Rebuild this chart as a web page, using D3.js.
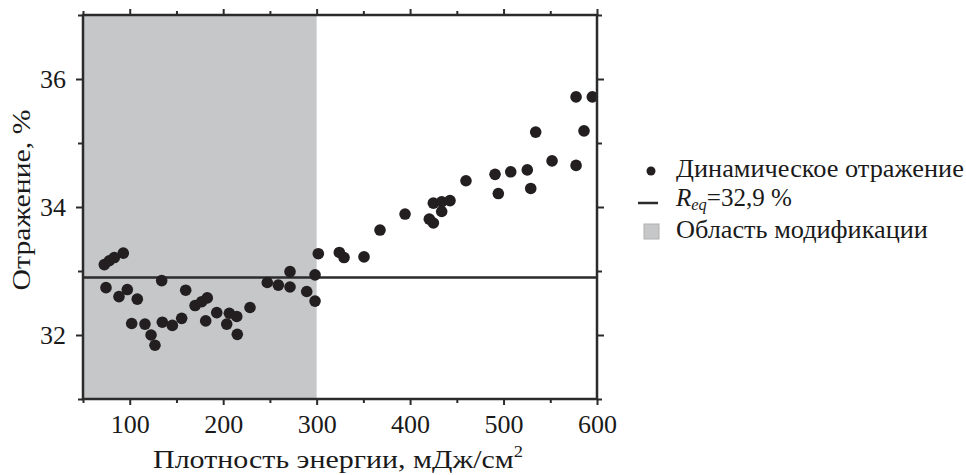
<!DOCTYPE html>
<html>
<head>
<meta charset="utf-8">
<script src="https://cdn.jsdelivr.net/npm/d3@7"></script>
<style>
  body { margin: 0; background: #fff; }
  text { font-family: "Liberation Serif", "Times New Roman", serif; fill: #1a1a1a; }
</style>
</head>
<body>
<div id="chart"></div>
<script>
// energy density, mJ/cm2
var energy = [72.8, 78.1, 83.5, 93.1, 74.6, 88.5, 97.4, 108.1, 102.1, 116.3,
              122.8, 127.0, 134.2, 134.9, 145.6, 155.6, 159.9, 169.9, 177.0, 183.0,
              181.3, 193.1, 206.6, 214.5, 203.8, 215.1, 228.7, 247.2, 259.0, 271.5,
              271.5, 289.4, 298.3, 298.3, 301.8, 324.3, 329.3, 350.7, 367.8, 394.6,
              420.6, 424.9, 424.9, 433.8, 442.7, 433.8, 459.8, 490.9, 494.4, 507.7,
              525.4, 529.1, 534.4, 551.9, 577.6, 577.6, 586.1, 595.0];
// dynamic reflection, %
var reflection = [33.10, 33.16, 33.21, 33.28, 32.74, 32.60, 32.71, 32.56, 32.18, 32.17,
                  32.00, 31.84, 32.85, 32.20, 32.15, 32.26, 32.70, 32.46, 32.52, 32.58,
                  32.22, 32.35, 32.34, 32.29, 32.17, 32.01, 32.43, 32.82, 32.78, 32.99,
                  32.75, 32.68, 32.94, 32.53, 33.27, 33.29, 33.21, 33.22, 33.64, 33.89,
                  33.81, 33.75, 34.06, 34.08, 34.10, 33.93, 34.41, 34.51, 34.21, 34.55,
                  34.58, 34.29, 35.17, 34.72, 34.65, 35.72, 35.19, 35.72];
var rEq = 32.9;
var modRegion = [50, 300];
var xTicks = [100, 200, 300, 400, 500, 600];
var xMinor = [50, 150, 250, 350, 450, 550];
var yTicks = [32, 34, 36];
var yMinor = [31, 33, 35, 37];
var legendLabels = ["Динамическое отражение", "R_eq", "Область модификации"];

var margin = {top: 15, right: 369, bottom: 76, left: 83},
    width = 966 - margin.left - margin.right,
    height = 475 - margin.top - margin.bottom;

var svg = d3.select("#chart").append("svg")
    .attr("width", 966).attr("height", 475);
var g = svg.append("g")
    .attr("transform", "translate(" + margin.left + "," + margin.top + ")");

var x = d3.scaleLinear().domain([50, 600]).range([0, width]);
var y = d3.scaleLinear().domain([31, 37]).range([height, 0]);

// stretch a text sideways so that it spans w pixels (the source font runs wider)
function fit(sel, w) {
    var k = w / sel.node().getComputedTextLength();
    sel.attr("transform", (sel.attr("transform") || "") + " scale(" + k + ",1)");
}

// shaded modification region
g.append("rect")
    .attr("x", x(modRegion[0])).attr("y", 0)
    .attr("width", x(modRegion[1]) - x(modRegion[0]))
    .attr("height", height)
    .attr("fill", "#c6c7c9");

// equilibrium line
g.append("line")
    .attr("x1", 0).attr("x2", width)
    .attr("y1", y(rEq)).attr("y2", y(rEq))
    .attr("stroke", "#2b2b2b").attr("stroke-width", 2.5);

// points
g.selectAll("circle.pt")
    .data(energy.map(function(d, i) { return {x: d, y: reflection[i]}; }))
    .enter().append("circle")
    .attr("class", "pt")
    .attr("cx", function(d) { return x(d.x); })
    .attr("cy", function(d) { return y(d.y); })
    .attr("r", 5.8)
    .attr("fill", "#231f20");

// axes: major ticks with labels, minor ticks without
function styleAxis(sel) {
    sel.select(".domain").remove();
    sel.selectAll("line").attr("stroke", "#2b2b2b").attr("stroke-width", 2);
    sel.selectAll("text").style("font-size", "26px")
        .style("font-family", "'Liberation Serif', serif").attr("fill", "#1a1a1a");
}
styleAxis(g.append("g").attr("transform", "translate(0," + height + ")")
    .call(d3.axisBottom(x).tickValues(xTicks).tickSize(6).tickPadding(10).tickFormat(d3.format("d"))));
styleAxis(g.append("g").attr("transform", "translate(0," + height + ")")
    .call(d3.axisBottom(x).tickValues(xMinor).tickSize(4).tickFormat("")));
styleAxis(g.append("g").call(d3.axisTop(x).tickValues(xTicks).tickSize(6).tickFormat("")));
styleAxis(g.append("g").call(d3.axisTop(x).tickValues(xMinor).tickSize(4).tickFormat("")));

styleAxis(g.append("g")
    .call(d3.axisLeft(y).tickValues(yTicks).tickSize(7).tickPadding(10).tickFormat(d3.format("d"))));
styleAxis(g.append("g").call(d3.axisLeft(y).tickValues(yMinor).tickSize(5).tickFormat("")));
styleAxis(g.append("g").attr("transform", "translate(" + width + ",0)")
    .call(d3.axisRight(y).tickValues(yTicks).tickSize(7).tickFormat("")));
styleAxis(g.append("g").attr("transform", "translate(" + width + ",0)")
    .call(d3.axisRight(y).tickValues(yMinor).tickSize(5).tickFormat("")));

// frame
g.append("rect")
    .attr("width", width).attr("height", height)
    .attr("fill", "none").attr("stroke", "#2b2b2b").attr("stroke-width", 2.5);

// axis titles
var xt = svg.append("text")
    .attr("transform", "translate(338,468)")
    .attr("text-anchor", "middle").style("font-size", "26px")
    .text("Плотность энергии, мДж/см");
xt.append("tspan").attr("dy", -11).style("font-size", "16px").text("2");
fit(xt, 370);

var yt = svg.append("text")
    .attr("transform", "translate(30,200) rotate(-90)")
    .attr("text-anchor", "middle").style("font-size", "26px")
    .text("Отражение, %");
fit(yt, 181);

// legend
var lg = svg.append("g").attr("transform", "translate(651,0)");
lg.append("circle").attr("cx", 0).attr("cy", 171).attr("r", 4.5).attr("fill", "#231f20");
fit(lg.append("text").attr("transform", "translate(25,177)").style("font-size", "26px")
    .text(legendLabels[0]), 288);

lg.append("line").attr("x1", -13).attr("x2", 7).attr("y1", 203).attr("y2", 203)
    .attr("stroke", "#2b2b2b").attr("stroke-width", 2.5);
var req = lg.append("text").attr("transform", "translate(25,206)").style("font-size", "26px");
req.append("tspan").style("font-style", "italic").text("R");
req.append("tspan").attr("dy", 4).style("font-style", "italic").style("font-size", "17px").text("eq");
req.append("tspan").attr("dy", -4).text("=" + d3.format(".1f")(rEq).replace(".", ",") + " %");
fit(req, 116);

lg.append("rect").attr("x", -7).attr("y", 224).attr("width", 15).attr("height", 15)
    .attr("fill", "#c6c7c9").attr("stroke", "#b0b0b0").attr("stroke-width", 1);
fit(lg.append("text").attr("transform", "translate(25,238)").style("font-size", "26px")
    .text(legendLabels[2]), 252);
</script>
</body>
</html>
